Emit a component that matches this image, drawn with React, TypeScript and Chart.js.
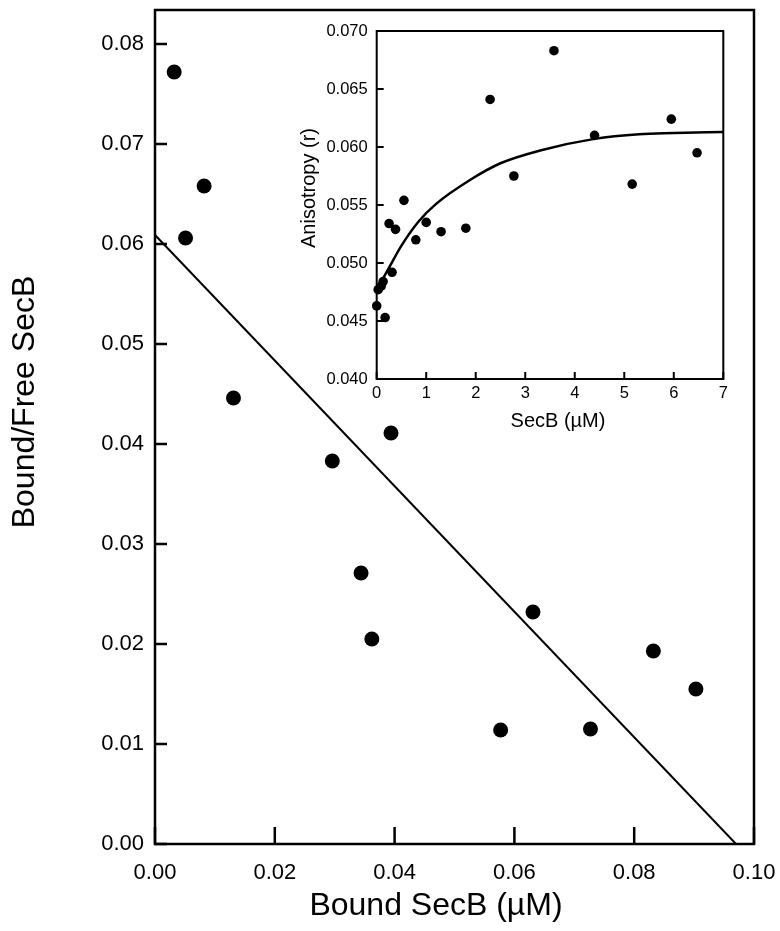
import React, { useEffect, useRef } from "react";
import { Chart, registerables } from "chart.js";

Chart.register(...registerables);

// ---- Main (Scatchard) plot data ----
const boundSecB = [0.0032, 0.0051, 0.0082, 0.0131, 0.0296, 0.0344, 0.0362, 0.0394, 0.0577, 0.0631, 0.0727, 0.0832, 0.0903];
const boundFreeSecB = [0.0772, 0.0606, 0.0658, 0.0446, 0.0383, 0.0271, 0.0205, 0.0411, 0.0114, 0.0232, 0.0115, 0.0193, 0.0155];
const fitLineX = [0, 0.097];
const fitLineY = [0.0609, 0];
const mainXTicks = [0, 0.02, 0.04, 0.06, 0.08, 0.1];
const mainYTicks = [0, 0.01, 0.02, 0.03, 0.04, 0.05, 0.06, 0.07, 0.08];

// ---- Inset (anisotropy) data ----
const secBConc = [0.0, 0.03, 0.09, 0.13, 0.17, 0.25, 0.31, 0.38, 0.55, 0.79, 1.0, 1.3, 1.8, 2.29, 2.77, 3.58, 4.4, 5.16, 5.95, 6.47];
const anisotropy = [0.0463, 0.0477, 0.048, 0.0484, 0.0453, 0.0534, 0.0492, 0.0529, 0.0554, 0.052, 0.0535, 0.0527, 0.053, 0.0641, 0.0575, 0.0683, 0.061, 0.0568, 0.0624, 0.0595];
const fitCurveX = [0, 0.25, 0.5, 0.85, 1.2, 1.9, 2.5, 3.3, 4.4, 5.3, 6, 7];
const fitCurveY = [0.0477, 0.0496, 0.0515, 0.0536, 0.0551, 0.0572, 0.0586, 0.0597, 0.0607, 0.0611, 0.0612, 0.0613];
const insetXTicks = [0, 1, 2, 3, 4, 5, 6, 7];
const insetYTicks = [0.04, 0.045, 0.05, 0.055, 0.06, 0.065, 0.07];

const FONT = '"Liberation Sans", Arial, Helvetica, sans-serif';

const zeroPad = (s: any) => {
  s.paddingTop = 0;
  s.paddingBottom = 0;
  s.paddingLeft = 0;
  s.paddingRight = 0;
};

const decorPlugin = {
  id: "decor",
  afterDatasetsDraw(chart: any, _args: any, opts: any) {
    const { ctx, chartArea: a } = chart;
    const xs = chart.scales.x;
    const ys = chart.scales.y;
    ctx.save();
    ctx.strokeStyle = "#000";
    ctx.lineWidth = opts.lineWidth;
    ctx.lineCap = "butt";
    ctx.beginPath();
    xs.ticks.forEach((t: any) => {
      const px = xs.getPixelForValue(t.value);
      ctx.moveTo(px, a.bottom);
      ctx.lineTo(px, a.bottom - opts.xTickLen);
    });
    ys.ticks.forEach((t: any) => {
      const py = ys.getPixelForValue(t.value);
      ctx.moveTo(a.left, py);
      ctx.lineTo(a.left + opts.yTickLen, py);
    });
    ctx.stroke();
    ctx.strokeRect(a.left, a.top, a.right - a.left, a.bottom - a.top);
    ctx.fillStyle = "#000";
    ctx.textAlign = "center";
    ctx.textBaseline = "middle";
    (opts.titles || []).forEach((t: any) => {
      ctx.save();
      ctx.font = `${t.size}px ${FONT}`;
      ctx.translate(t.x, t.y);
      if (t.rotate) ctx.rotate(t.rotate);
      ctx.fillText(t.text, 0, 0);
      ctx.restore();
    });
    ctx.restore();
  },
};

function MainChart() {
  const ref = useRef<HTMLCanvasElement | null>(null);
  useEffect(() => {
    if (!ref.current) return;
    const chart = new Chart(ref.current, {
      type: "scatter",
      data: {
        datasets: [
          {
            data: boundSecB.map((x, i) => ({ x, y: boundFreeSecB[i] })),
            backgroundColor: "#000",
            borderWidth: 0,
            pointRadius: 7.5,
            clip: false,
          } as any,
          {
            type: "line",
            data: fitLineX.map((x, i) => ({ x, y: fitLineY[i] })),
            borderColor: "#000",
            borderWidth: 2,
            pointRadius: 0,
            fill: false,
          } as any,
        ],
      },
      plugins: [decorPlugin as any],
      options: {
        animation: false,
        responsive: true,
        maintainAspectRatio: false,
        layout: { padding: { top: 10, right: 26, bottom: 0, left: 0 } },
        plugins: {
          legend: { display: false },
          tooltip: { enabled: false },
          decor: {
            lineWidth: 2.5,
            xTickLen: 17,
            yTickLen: 12,
            titles: [
              { text: "Bound SecB (\u00b5M)", x: 436, y: 906, size: 32 },
              { text: "Bound/Free SecB", x: 25, y: 402, size: 32, rotate: -Math.PI / 2 },
            ],
          },
        } as any,
        scales: {
          x: {
            type: "linear",
            min: 0,
            max: 0.1,
            afterFit: (s: any) => { s.height = 87; zeroPad(s); },
            afterBuildTicks: (s: any) => { s.ticks = mainXTicks.map((v) => ({ value: v })); },
            grid: { display: false, drawTicks: false },
            border: { display: false },
            ticks: {
              padding: 16,
              color: "#000",
              font: { family: FONT, size: 22 },
              maxRotation: 0,
              callback: (v: any) => Number(v).toFixed(2),
            },
          },
          y: {
            type: "linear",
            min: 0,
            max: 0.0834,
            afterFit: (s: any) => { s.width = 155; zeroPad(s); },
            afterBuildTicks: (s: any) => { s.ticks = mainYTicks.map((v) => ({ value: v })); },
            grid: { display: false, drawTicks: false },
            border: { display: false },
            ticks: {
              padding: 11,
              color: "#000",
              font: { family: FONT, size: 22 },
              callback: (v: any) => Number(v).toFixed(2),
            },
          },
        },
      } as any,
    });
    return () => chart.destroy();
  }, []);
  return <canvas ref={ref} />;
}

function InsetChart() {
  const ref = useRef<HTMLCanvasElement | null>(null);
  useEffect(() => {
    if (!ref.current) return;
    const chart = new Chart(ref.current, {
      type: "scatter",
      data: {
        datasets: [
          {
            data: secBConc.map((x, i) => ({ x, y: anisotropy[i] })),
            backgroundColor: "#000",
            borderWidth: 0,
            pointRadius: 4.8,
            clip: false,
          } as any,
          {
            type: "line",
            data: fitCurveX.map((x, i) => ({ x, y: fitCurveY[i] })),
            borderColor: "#000",
            borderWidth: 2.5,
            pointRadius: 0,
            cubicInterpolationMode: "monotone",
            fill: false,
          } as any,
        ],
      },
      plugins: [decorPlugin as any],
      options: {
        animation: false,
        responsive: true,
        maintainAspectRatio: false,
        layout: { padding: { top: 16, right: 26.7, bottom: 0, left: 0 } },
        plugins: {
          legend: { display: false },
          tooltip: { enabled: false },
          decor: {
            lineWidth: 2,
            xTickLen: 7,
            yTickLen: 7,
            titles: [
              { text: "SecB (\u00b5M)", x: 278, y: 406, size: 20 },
              { text: "Anisotropy (r)", x: 29, y: 173, size: 20, rotate: -Math.PI / 2 },
            ],
          },
        } as any,
        scales: {
          x: {
            type: "linear",
            min: 0,
            max: 7,
            afterFit: (s: any) => { s.height = 66; zeroPad(s); },
            afterBuildTicks: (s: any) => { s.ticks = insetXTicks.map((v) => ({ value: v })); },
            grid: { display: false, drawTicks: false },
            border: { display: false },
            ticks: {
              padding: 5,
              color: "#000",
              font: { family: FONT, size: 16.5 },
              maxRotation: 0,
              callback: (v: any) => String(v),
            },
          },
          y: {
            type: "linear",
            min: 0.04,
            max: 0.07,
            afterFit: (s: any) => { s.width = 96.7; zeroPad(s); },
            afterBuildTicks: (s: any) => { s.ticks = insetYTicks.map((v) => ({ value: v })); },
            grid: { display: false, drawTicks: false },
            border: { display: false },
            ticks: {
              padding: 9,
              color: "#000",
              font: { family: FONT, size: 16.5 },
              callback: (v: any) => Number(v).toFixed(3),
            },
          },
        },
      } as any,
    });
    return () => chart.destroy();
  }, []);
  return <canvas ref={ref} />;
}

export default function App() {
  return (
    <div style={{ position: "absolute", left: 0, top: 0, width: 780, height: 931, background: "#fff" }}>
      <div style={{ position: "absolute", left: 0, top: 0, width: 780, height: 931 }}>
        <MainChart />
      </div>
      <div style={{ position: "absolute", left: 280, top: 15, width: 470, height: 430 }}>
        <InsetChart />
      </div>
    </div>
  );
}
